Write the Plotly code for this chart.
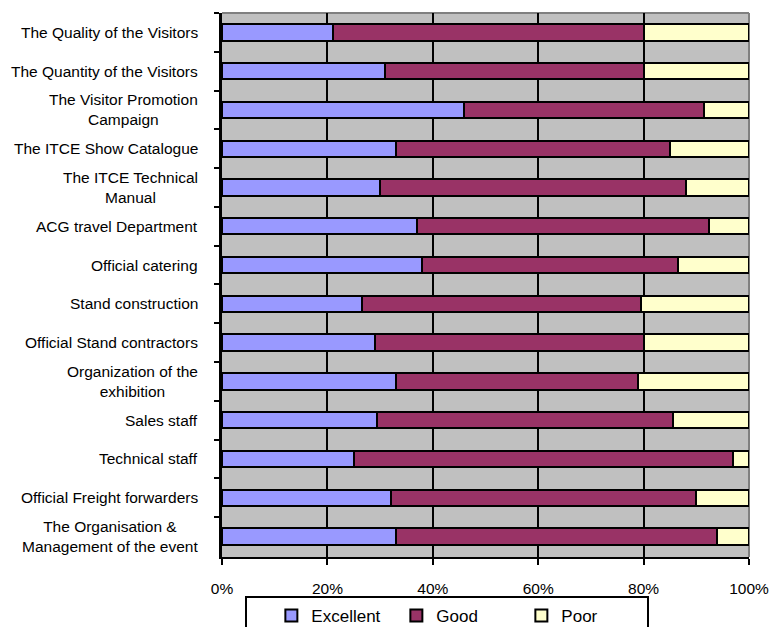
import plotly.graph_objects as go

categories = [
    "The Quality of the Visitors",
    "The Quantity of the Visitors",
    "The Visitor Promotion<br>Campaign",
    "The ITCE Show Catalogue",
    "The ITCE Technical<br>Manual",
    "ACG travel Department",
    "Official catering",
    "Stand construction",
    "Official Stand contractors",
    "Organization of the<br>exhibition",
    "Sales staff",
    "Technical staff",
    "Official Freight forwarders",
    "The Organisation &<br>Management of the event",
]
excellent = [21, 31, 46, 33, 30, 37, 38, 26.5, 29, 33, 29.5, 25, 32, 33]
good = [59, 49, 45.5, 52, 58, 55.5, 48.5, 53, 51, 46, 56, 72, 58, 61]
poor = [20, 20, 8.5, 15, 12, 7.5, 13.5, 20.5, 20, 21, 14.5, 3, 10, 6]

series = [("Excellent", excellent, "#9999FF"),
          ("Good", good, "#993366"),
          ("Poor", poor, "#FFFFCC")]

fig = go.Figure()
for name, vals, col in series:
    fig.add_trace(go.Bar(
        y=categories, x=vals, name=name, orientation="h",
        marker=dict(color=col, line=dict(color="black", width=2)),
    ))

for c in categories:
    fig.add_annotation(
        x=-0.042, xref="paper", y=c, yref="y", text=c, showarrow=False,
        xanchor="right", yanchor="middle", align="center",
        font=dict(family="Arial, Liberation Sans", size=15.5, color="black"),
    )

# gray top and right border
fig.add_shape(type="line", xref="paper", yref="paper", x0=0, x1=1, y0=1, y1=1,
              line=dict(color="#808080", width=2), layer="between")
fig.add_shape(type="line", xref="paper", yref="paper", x0=1, x1=1, y0=0, y1=1,
              line=dict(color="#808080", width=2), layer="between")

fig.update_layout(
    width=773, height=627,
    margin=dict(l=222, r=24, t=13, b=70, autoexpand=False),
    barmode="stack", bargap=0.58,
    plot_bgcolor="#C0C0C0", paper_bgcolor="white",
    font=dict(family="Arial, Liberation Sans", color="black"),
    showlegend=True,
    legend=dict(
        orientation="h", x=0.044, xanchor="left", y=-0.0717, yanchor="top",
        bordercolor="black", borderwidth=2, bgcolor="rgba(0,0,0,0)",
        font=dict(size=17), traceorder="normal", itemwidth=30,
        entrywidth=80,
        title=dict(text="\u00a0\u00a0\u00a0", font=dict(size=17)),
    ),
    xaxis=dict(
        range=[0, 100], tickvals=[0, 20, 40, 60, 80, 100],
        ticktext=["0%", "20%", "40%", "60%", "80%", "100%"],
        showgrid=True, gridcolor="black", gridwidth=2,
        showline=True, linecolor="black", linewidth=2,
        ticks="outside", ticklen=6, tickwidth=2, tickcolor="black",
        ticklabelstandoff=10, tickfont=dict(size=15.5),
        zeroline=False, fixedrange=True,
    ),
    yaxis=dict(
        autorange="reversed", showticklabels=False,
        tickson="boundaries", ticks="outside", ticklen=5, tickwidth=2,
        tickcolor="black", showgrid=False,
        showline=True, linecolor="black", linewidth=3,
    ),
)

fig.write_html("out.html")
